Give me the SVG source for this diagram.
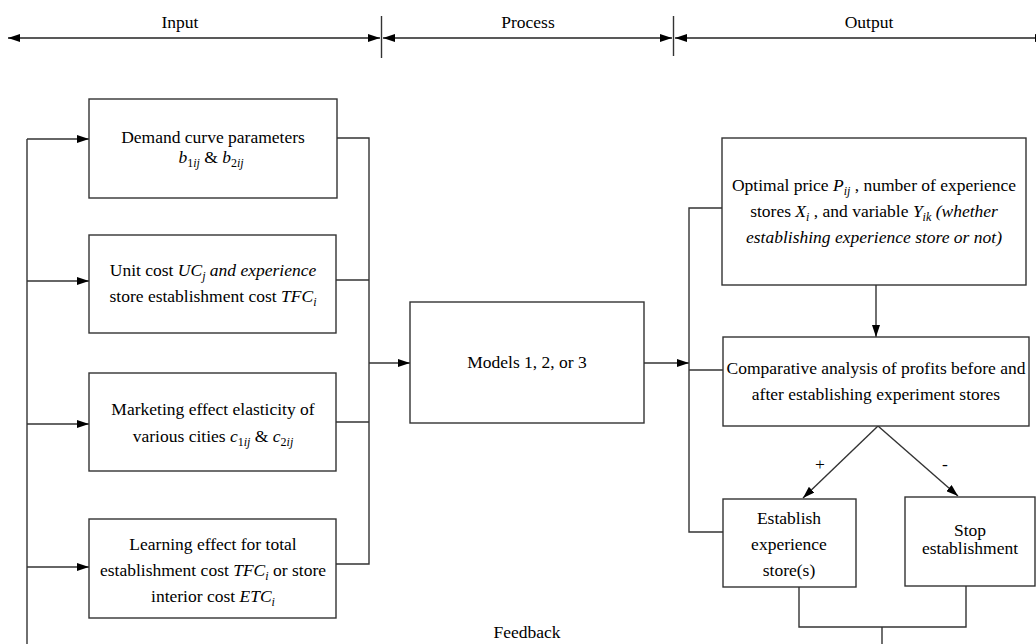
<svg xmlns="http://www.w3.org/2000/svg" width="1036" height="644" viewBox="0 0 1036 644">
<defs>
<marker id="ah" markerUnits="userSpaceOnUse" markerWidth="12" markerHeight="8" refX="12" refY="4" orient="auto-start-reverse">
<path d="M0,0 L12,4 L0,8 z" fill="#000"/>
</marker>
</defs>
<style>
.bx{fill:#fff;stroke:#333;stroke-width:1.4}
.ln{fill:none;stroke:#333;stroke-width:1.4}
.ar{fill:none;stroke:#333;stroke-width:1.4;marker-end:url(#ah)}
.hd{fill:none;stroke:#222;stroke-width:1.6;marker-start:url(#ah);marker-end:url(#ah)}
text{font-family:"Liberation Serif","Times New Roman",serif;font-size:17.5px;fill:#000;text-anchor:middle}
.i{font-style:italic}
.s{font-size:12px}
</style>
<rect width="1036" height="644" fill="#fff"/>
<g id="header">
<line class="hd" x1="8" y1="38" x2="380" y2="38"/>
<line class="hd" x1="383" y1="38" x2="672" y2="38"/>
<line class="hd" x1="675" y1="38" x2="1047" y2="38"/>
<line class="ln" x1="381.5" y1="16" x2="381.5" y2="58"/>
<line class="ln" x1="673.5" y1="16" x2="673.5" y2="56"/>
<text x="180" y="28">Input</text>
<text x="528" y="28">Process</text>
<text x="869" y="28">Output</text>
</g>
<g id="connectors">
<polyline class="ln" points="27,644 27,139"/>
<line class="ar" x1="27" y1="139" x2="89" y2="139"/>
<line class="ar" x1="27" y1="281" x2="89" y2="281"/>
<line class="ar" x1="27" y1="424" x2="89" y2="424"/>
<line class="ar" x1="27" y1="567" x2="89" y2="567"/>
<polyline class="ln" points="337,138 369,138 369,564 336,564"/>
<line class="ln" x1="336" y1="280" x2="369" y2="280"/>
<line class="ln" x1="336" y1="422" x2="369" y2="422"/>
<line class="ar" x1="369" y1="363" x2="410" y2="363"/>
<line class="ar" x1="644" y1="363" x2="689" y2="363"/>
<polyline class="ln" points="722,208 689,208 689,532 723,532"/>
<line class="ln" x1="689" y1="370" x2="723" y2="370"/>
<line class="ar" x1="876" y1="285" x2="876" y2="337"/>
<line class="ar" x1="878" y1="426" x2="803" y2="498"/>
<line class="ar" x1="878" y1="426" x2="958" y2="496"/>
<polyline class="ln" points="799,587 799,627 966,627 966,586"/>
<line class="ln" x1="882" y1="627" x2="882" y2="644"/>
<text x="820" y="470">+</text>
<text x="945" y="470">-</text>
<text x="527" y="638">Feedback</text>
</g>
<g id="demand">
<rect class="bx" x="89" y="99" width="248" height="99"/>
<text x="213" y="143">Demand curve parameters</text>
<text x="211" y="163"><tspan class="i">b</tspan><tspan class="s" dy="4">1<tspan class="i">ij</tspan></tspan><tspan dy="-4"> &amp; </tspan><tspan class="i">b</tspan><tspan class="s" dy="4">2<tspan class="i">ij</tspan></tspan></text>
</g>
<g id="unitcost">
<rect class="bx" x="89" y="235" width="247" height="98"/>
<text x="213" y="276">Unit cost <tspan class="i">UC</tspan><tspan class="s i" dy="4">j</tspan><tspan class="i" dy="-4"> and experience</tspan></text>
<text x="213" y="302">store establishment cost <tspan class="i">TFC</tspan><tspan class="s i" dy="4">i</tspan></text>
</g>
<g id="marketing">
<rect class="bx" x="89" y="373" width="247" height="98"/>
<text x="213" y="415">Marketing effect elasticity of</text>
<text x="213" y="442">various cities <tspan class="i">c</tspan><tspan class="s" dy="4">1<tspan class="i">ij</tspan></tspan><tspan dy="-4"> &amp; </tspan><tspan class="i">c</tspan><tspan class="s" dy="4">2<tspan class="i">ij</tspan></tspan></text>
</g>
<g id="learning">
<rect class="bx" x="89" y="519" width="247" height="99"/>
<text x="213" y="550">Learning effect for total</text>
<text x="213" y="576">establishment cost <tspan class="i">TFC</tspan><tspan class="s i" dy="4">i</tspan><tspan dy="-4"> or store</tspan></text>
<text x="213" y="602">interior cost <tspan class="i">ETC</tspan><tspan class="s i" dy="4">i</tspan></text>
</g>
<g id="models">
<rect class="bx" x="410" y="302" width="234" height="121"/>
<text x="527" y="368">Models 1, 2, or 3</text>
</g>
<g id="optimal">
<rect class="bx" x="722" y="138" width="304" height="147"/>
<text x="874" y="191">Optimal price <tspan class="i">P</tspan><tspan class="s i" dy="4">ij</tspan><tspan dy="-4"> , number of experience</tspan></text>
<text x="874" y="217">stores <tspan class="i">X</tspan><tspan class="s i" dy="4">i</tspan><tspan dy="-4"> , and variable </tspan><tspan class="i">Y</tspan><tspan class="s i" dy="4">ik</tspan><tspan class="i" dy="-4"> (whether</tspan></text>
<text x="874" y="243" class="i">establishing experience store or not)</text>
</g>
<g id="comparative">
<rect class="bx" x="723" y="337" width="306" height="89"/>
<text x="876" y="374">Comparative analysis of profits before and</text>
<text x="876" y="400">after establishing experiment stores</text>
</g>
<g id="establish">
<rect class="bx" x="723" y="499" width="133" height="88"/>
<text x="789" y="524">Establish</text>
<text x="789" y="550">experience</text>
<text x="789" y="576">store(s)</text>
</g>
<g id="stop">
<rect class="bx" x="905" y="497" width="130" height="89"/>
<text x="970" y="536">Stop</text>
<text x="970" y="554">establishment</text>
</g>
</svg>
